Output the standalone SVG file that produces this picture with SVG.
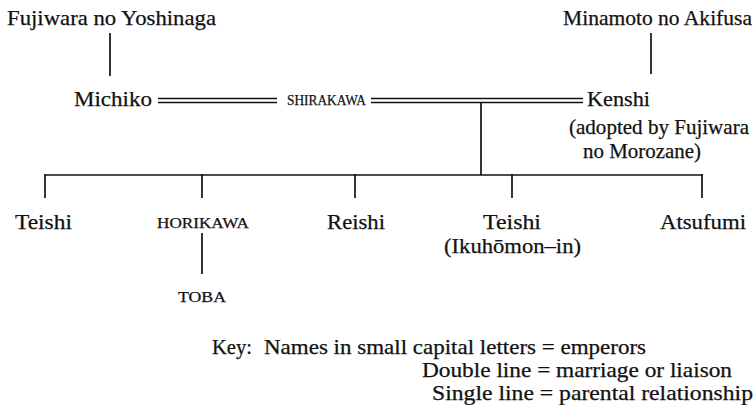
<svg xmlns="http://www.w3.org/2000/svg" width="756" height="405" viewBox="0 0 756 405">
<style>
  text { font-family: "Liberation Serif", "Times New Roman", serif; fill: #111; stroke: #111; stroke-width: 0.25; }
  .n { font-size: 22px; }
  .k { font-size: 21px; }
  .sc { font-size: 15px; }
  line { stroke: #111; stroke-width: 1.7; fill: none; }
  .dbl line { stroke-width: 1.3; }
</style>
<rect width="756" height="405" fill="#ffffff"/>
<g id="connectors">
  <line x1="110" y1="33" x2="110" y2="76"/>
  <line x1="651" y1="33" x2="651" y2="74"/>
  <g class="dbl">
    <line x1="158" y1="98.5" x2="277" y2="98.5"/>
    <line x1="158" y1="102.5" x2="277" y2="102.5"/>
    <line x1="371" y1="98.5" x2="583" y2="98.5"/>
    <line x1="371" y1="102.5" x2="583" y2="102.5"/>
  </g>
  <line x1="481" y1="102.5" x2="481" y2="175"/>
  <line x1="45" y1="175" x2="703" y2="175"/>
  <line x1="45" y1="174" x2="45" y2="198"/>
  <line x1="202" y1="174" x2="202" y2="198"/>
  <line x1="355" y1="174" x2="355" y2="198"/>
  <line x1="512" y1="174" x2="512" y2="198"/>
  <line x1="702" y1="174" x2="702" y2="198"/>
  <line x1="202" y1="233" x2="202" y2="274"/>
</g>
<g id="fujiwara-yoshinaga"><text class="n" x="7" y="25" textLength="209" lengthAdjust="spacingAndGlyphs">Fujiwara no Yoshinaga</text></g>
<g id="minamoto-akifusa"><text class="n" x="563" y="25" textLength="189" lengthAdjust="spacingAndGlyphs">Minamoto no Akifusa</text></g>
<g id="michiko"><text class="n" x="74" y="106" textLength="78" lengthAdjust="spacingAndGlyphs">Michiko</text></g>
<g id="shirakawa"><text class="sc" x="287" y="105" textLength="79" lengthAdjust="spacingAndGlyphs">SHIRAKAWA</text></g>
<g id="kenshi">
  <text class="n" x="587" y="106" textLength="63" lengthAdjust="spacingAndGlyphs">Kenshi</text>
  <text class="n" x="569" y="134" textLength="180" lengthAdjust="spacingAndGlyphs">(adopted by Fujiwara</text>
  <text class="n" x="583" y="158" textLength="118" lengthAdjust="spacingAndGlyphs">no Morozane)</text>
</g>
<g id="teishi-1"><text class="n" x="15" y="229" textLength="57" lengthAdjust="spacingAndGlyphs">Teishi</text></g>
<g id="horikawa"><text class="sc" x="157" y="228" textLength="92" lengthAdjust="spacingAndGlyphs">HORIKAWA</text></g>
<g id="toba"><text class="sc" x="178" y="302" textLength="48" lengthAdjust="spacingAndGlyphs">TOBA</text></g>
<g id="reishi"><text class="n" x="327" y="229" textLength="58" lengthAdjust="spacingAndGlyphs">Reishi</text></g>
<g id="teishi-2">
  <text class="n" x="483" y="229" textLength="58" lengthAdjust="spacingAndGlyphs">Teishi</text>
  <text class="n" x="444" y="253" textLength="137" lengthAdjust="spacingAndGlyphs">(Ikuhōmon–in)</text>
</g>
<g id="atsufumi"><text class="n" x="660" y="229" textLength="86" lengthAdjust="spacingAndGlyphs">Atsufumi</text></g>
<g id="key">
  <text class="k" x="212" y="354" textLength="40" lengthAdjust="spacingAndGlyphs">Key:</text>
  <text class="k" x="264" y="354" textLength="382" lengthAdjust="spacingAndGlyphs">Names in small capital letters = emperors</text>
  <text class="k" x="422" y="377" textLength="310" lengthAdjust="spacingAndGlyphs">Double line = marriage or liaison</text>
  <text class="k" x="432" y="400" textLength="321" lengthAdjust="spacingAndGlyphs">Single line = parental relationship</text>
</g>
</svg>
